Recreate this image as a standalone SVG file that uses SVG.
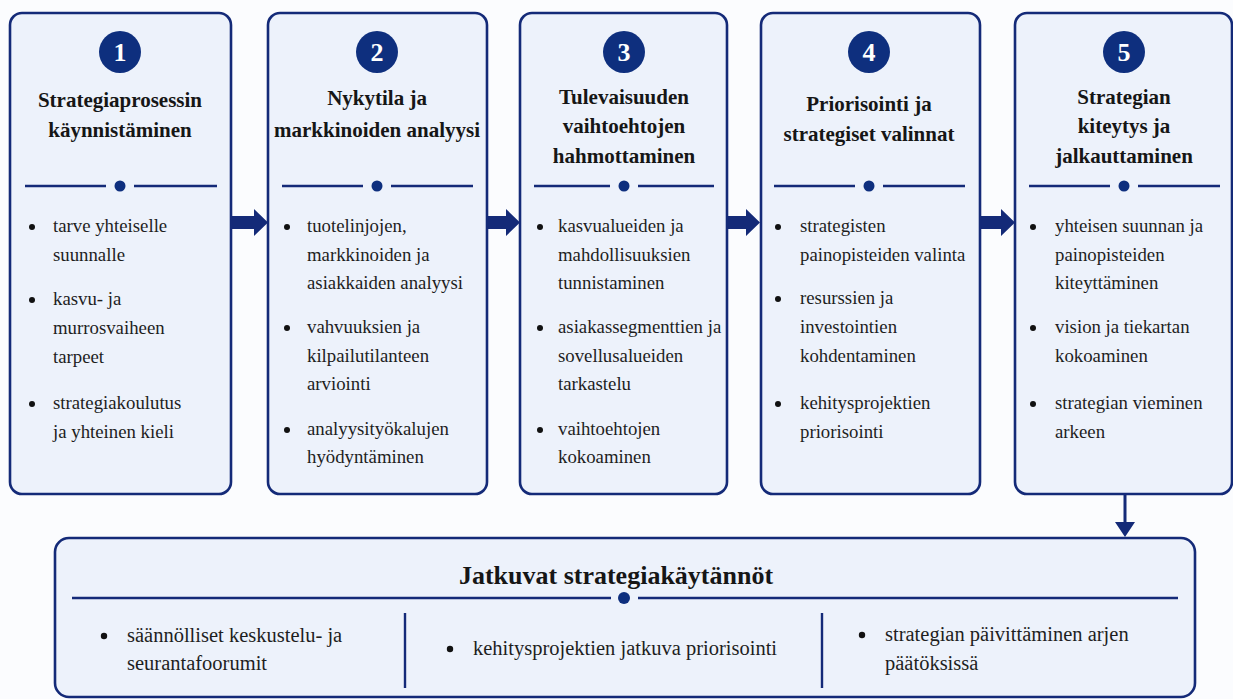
<svg xmlns="http://www.w3.org/2000/svg" width="1233" height="699" viewBox="0 0 1233 699">
<defs>
<style>
.box{fill:#edf2fb;stroke:#142a78;stroke-width:2.6}
.num{fill:#0e2f7e}
.numt{font-family:"Liberation Serif",serif;font-weight:bold;font-size:26px;fill:#fff;text-anchor:middle}
.title{font-family:"Liberation Serif",serif;font-weight:bold;font-size:21px;fill:#161616;text-anchor:middle}
.item{font-family:"Liberation Serif",serif;font-size:18.8px;fill:#1e1e1e}
.item2{font-family:"Liberation Serif",serif;font-size:20.5px;fill:#1e1e1e}
.div{stroke:#142a78;stroke-width:2.4}
.dot{fill:#0e2f7e}
.bul{fill:#111}
.arr{fill:#142a78}
.sep{stroke:#142a78;stroke-width:2.4}
.big{font-family:"Liberation Serif",serif;font-weight:bold;font-size:26px;fill:#161616;text-anchor:middle}
</style>
</defs>
<rect width="1233" height="699" fill="#fbfcfe"/>

<g id="connectors">
<path class="arr" d="M231,216 H254 V209 L268,222.5 L254,236 V229 H231 Z"/>
<path class="arr" d="M488,216 H506 V209 L520,222.5 L506,236 V229 H488 Z"/>
<path class="arr" d="M728,216 H746 V209 L760,222.5 L746,236 V229 H728 Z"/>
<path class="arr" d="M981,216 H1001 V209 L1015,222.5 L1001,236 V229 H981 Z"/>
<path class="arr" d="M1123.5,495 H1126.5 V522 H1135 L1125,537 L1115,522 H1123.5 Z"/>
</g>

<g id="node1">
<rect class="box" x="10" y="13" width="221" height="481" rx="12"/>
<circle class="num" cx="120" cy="52" r="21"/>
<text class="numt" x="120" y="61">1</text>
<text class="title" x="120" y="107">Strategiaprosessin</text>
<text class="title" x="120" y="137">käynnistäminen</text>
<line class="div" x1="25" y1="186" x2="106" y2="186"/><circle class="dot" cx="120" cy="186" r="5.5"/><line class="div" x1="134" y1="186" x2="217" y2="186"/>
<circle class="bul" cx="32" cy="227" r="3"/>
<text class="item" x="53" y="232">tarve yhteiselle</text>
<text class="item" x="53" y="261">suunnalle</text>
<circle class="bul" cx="32" cy="300" r="3"/>
<text class="item" x="53" y="305">kasvu- ja</text>
<text class="item" x="53" y="334">murrosvaiheen</text>
<text class="item" x="53" y="363">tarpeet</text>
<circle class="bul" cx="32" cy="404" r="3"/>
<text class="item" x="53" y="409">strategiakoulutus</text>
<text class="item" x="53" y="438">ja yhteinen kieli</text>
</g>

<g id="node2">
<rect class="box" x="268" y="13" width="219" height="481" rx="12"/>
<circle class="num" cx="377" cy="52" r="21"/>
<text class="numt" x="377" y="61">2</text>
<text class="title" x="377" y="105">Nykytila ja</text>
<text class="title" x="377" y="137">markkinoiden analyysi</text>
<line class="div" x1="282" y1="186" x2="363" y2="186"/><circle class="dot" cx="377" cy="186" r="5.5"/><line class="div" x1="391" y1="186" x2="473" y2="186"/>
<circle class="bul" cx="287" cy="227" r="3"/>
<text class="item" x="307" y="232">tuotelinjojen,</text>
<text class="item" x="307" y="261">markkinoiden ja</text>
<text class="item" x="307" y="289">asiakkaiden analyysi</text>
<circle class="bul" cx="287" cy="328" r="3"/>
<text class="item" x="307" y="333">vahvuuksien ja</text>
<text class="item" x="307" y="362">kilpailutilanteen</text>
<text class="item" x="307" y="390">arviointi</text>
<circle class="bul" cx="287" cy="430" r="3"/>
<text class="item" x="307" y="435">analyysityökalujen</text>
<text class="item" x="307" y="463">hyödyntäminen</text>
</g>

<g id="node3">
<rect class="box" x="520" y="13" width="207" height="481" rx="12"/>
<circle class="num" cx="624" cy="52" r="21"/>
<text class="numt" x="624" y="61">3</text>
<text class="title" x="624" y="104">Tulevaisuuden</text>
<text class="title" x="624" y="133">vaihtoehtojen</text>
<text class="title" x="624" y="163">hahmottaminen</text>
<line class="div" x1="534" y1="186" x2="610" y2="186"/><circle class="dot" cx="624" cy="186" r="5.5"/><line class="div" x1="638" y1="186" x2="714" y2="186"/>
<circle class="bul" cx="540" cy="227" r="3"/>
<text class="item" x="558" y="232">kasvualueiden ja</text>
<text class="item" x="558" y="261">mahdollisuuksien</text>
<text class="item" x="558" y="289">tunnistaminen</text>
<circle class="bul" cx="540" cy="328" r="3"/>
<text class="item" x="558" y="333">asiakassegmenttien ja</text>
<text class="item" x="558" y="362">sovellusalueiden</text>
<text class="item" x="558" y="390">tarkastelu</text>
<circle class="bul" cx="540" cy="430" r="3"/>
<text class="item" x="558" y="435">vaihtoehtojen</text>
<text class="item" x="558" y="463">kokoaminen</text>
</g>

<g id="node4">
<rect class="box" x="761" y="13" width="219" height="481" rx="12"/>
<circle class="num" cx="869" cy="52" r="21"/>
<text class="numt" x="869" y="61">4</text>
<text class="title" x="869" y="111">Priorisointi ja</text>
<text class="title" x="869" y="141">strategiset valinnat</text>
<line class="div" x1="774" y1="186" x2="855" y2="186"/><circle class="dot" cx="869" cy="186" r="5.5"/><line class="div" x1="883" y1="186" x2="965" y2="186"/>
<circle class="bul" cx="778" cy="227" r="3"/>
<text class="item" x="800" y="232">strategisten</text>
<text class="item" x="800" y="261">painopisteiden valinta</text>
<circle class="bul" cx="778" cy="299" r="3"/>
<text class="item" x="800" y="304">resurssien ja</text>
<text class="item" x="800" y="333">investointien</text>
<text class="item" x="800" y="362">kohdentaminen</text>
<circle class="bul" cx="778" cy="404" r="3"/>
<text class="item" x="800" y="409">kehitysprojektien</text>
<text class="item" x="800" y="438">priorisointi</text>
</g>

<g id="node5">
<rect class="box" x="1015" y="13" width="217" height="481" rx="12"/>
<circle class="num" cx="1124" cy="52" r="21"/>
<text class="numt" x="1124" y="61">5</text>
<text class="title" x="1124" y="104">Strategian</text>
<text class="title" x="1124" y="133">kiteytys ja</text>
<text class="title" x="1124" y="163">jalkauttaminen</text>
<line class="div" x1="1029" y1="186" x2="1110" y2="186"/><circle class="dot" cx="1124" cy="186" r="5.5"/><line class="div" x1="1138" y1="186" x2="1220" y2="186"/>
<circle class="bul" cx="1033" cy="227" r="3"/>
<text class="item" x="1055" y="232">yhteisen suunnan ja</text>
<text class="item" x="1055" y="261">painopisteiden</text>
<text class="item" x="1055" y="289">kiteyttäminen</text>
<circle class="bul" cx="1033" cy="328" r="3"/>
<text class="item" x="1055" y="333">vision ja tiekartan</text>
<text class="item" x="1055" y="362">kokoaminen</text>
<circle class="bul" cx="1033" cy="404" r="3"/>
<text class="item" x="1055" y="409">strategian vieminen</text>
<text class="item" x="1055" y="438">arkeen</text>
</g>

<g id="node6">
<rect class="box" x="55" y="538" width="1140" height="159" rx="14"/>
<text class="big" x="616" y="584">Jatkuvat strategiakäytännöt</text>
<line class="div" x1="72" y1="598" x2="611" y2="598"/><circle class="dot" cx="624" cy="598" r="6"/><line class="div" x1="638" y1="598" x2="1178" y2="598"/>
<line class="sep" x1="405" y1="613" x2="405" y2="688"/>
<line class="sep" x1="822" y1="613" x2="822" y2="688"/>
<circle class="bul" cx="104" cy="636" r="3.2"/>
<text class="item2" x="127" y="642">säännölliset keskustelu- ja</text>
<text class="item2" x="127" y="670">seurantafoorumit</text>
<circle class="bul" cx="450" cy="649" r="3.2"/>
<text class="item2" x="473" y="655">kehitysprojektien jatkuva priorisointi</text>
<circle class="bul" cx="862" cy="635" r="3.2"/>
<text class="item2" x="885" y="641">strategian päivittäminen arjen</text>
<text class="item2" x="885" y="670">päätöksissä</text>
</g>
</svg>
